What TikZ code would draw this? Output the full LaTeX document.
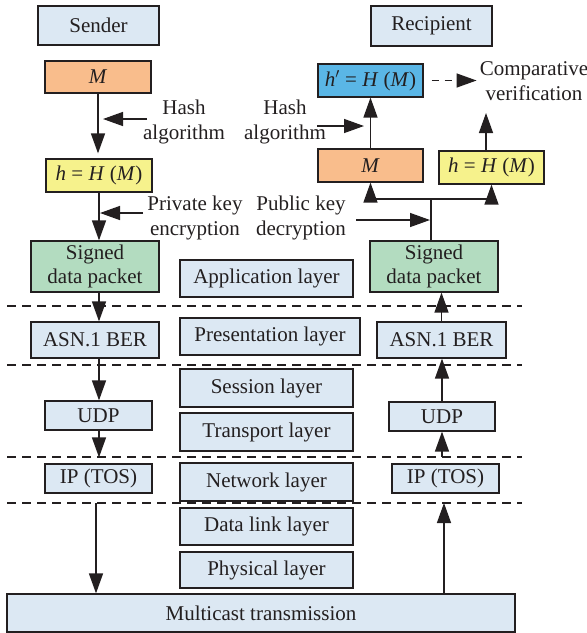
\documentclass[tikz,border=0pt]{standalone}
\usepackage{fontspec}
\setmainfont{Liberation Serif}
\usetikzlibrary{arrows.meta,calc}
\definecolor{boxblue}{HTML}{DCE8F3}
\definecolor{boxorange}{HTML}{F9BD8C}
\definecolor{boxyellow}{HTML}{F6F28C}
\definecolor{boxgreen}{HTML}{B3DCC0}
\definecolor{boxcyan}{HTML}{5AB6E6}
\definecolor{ink}{HTML}{231F20}
\tikzset{
  every node/.style={font=\fontsize{21}{25}\selectfont, text=ink},
  box/.style={draw=ink, line width=1.2pt, fill=boxblue, inner sep=0pt, align=center},
  lbl/.style={align=center, inner sep=0pt},
  arr/.style={draw=ink, line width=1.4pt, -{Triangle[length=20pt,width=14pt]}},
  conn/.style={draw=ink, line width=1.4pt},
  sep/.style={draw=ink, line width=1.1pt, dash pattern=on 9pt off 6pt},
}
\newcommand{\bx}[6]{%
  \node[box,#6, minimum width=#4pt, minimum height=#5pt] (#1) at (#2,#3)}
\begin{document}
\begin{tikzpicture}[x=1pt,y=-1pt]
\useasboundingbox (0,0) rectangle (587,633);

% layer separators
\foreach \yy in {306,365,457,503}{
  \draw[sep] (7,\yy) -- (522,\yy);
}
\coordinate (d3) at (7,457);
\coordinate (d4) at (7,503);

% sender column
\bx{sender}{98.5}{25.5}{121}{39}{} {Sender};
\bx{mL}{98}{77}{106}{32}{fill=boxorange} {\textit{M}};
\bx{hL}{99}{175.5}{106}{33}{fill=boxyellow} {\textit{h} = \textit{H} (\textit{M})};
\bx{sigL}{95}{266.5}{128}{51}{fill=boxgreen} {Signed\\[-1pt]data packet};
\bx{asnL}{95}{340}{128}{36}{} {ASN.1 BER};
\bx{udpL}{98.5}{415.5}{107}{29}{} {UDP};
\bx{ipL}{98.5}{478.5}{107}{29}{} {IP (TOS)};

% OSI reference stack
\bx{app}{266.5}{278.5}{173}{37}{} {Application layer};
\bx{pres}{270}{336.5}{180}{37}{} {Presentation layer};
\bx{sess}{266.5}{388}{173}{38}{} {Session layer};
\bx{trans}{266.5}{432}{173}{38}{} {Transport layer};
\bx{net}{266.5}{482}{173}{38}{} {Network layer};
\bx{dll}{266.5}{526.5}{173}{37}{} {Data link layer};
\bx{phy}{266.5}{570}{173}{36}{} {Physical layer};
\bx{mc}{261}{613}{508}{38}{} {Multicast transmission};

% recipient column
\bx{recip}{431.5}{26}{121}{40}{} {Recipient};
\bx{hp}{370.5}{80.5}{105}{33}{fill=boxcyan} {\textit{h}$'$ = \textit{H} (\textit{M})};
\bx{mR}{370.5}{165.5}{105}{33}{fill=boxorange} {\textit{M}};
\bx{hR}{491.5}{167.5}{105}{33}{fill=boxyellow} {\textit{h} = \textit{H} (\textit{M})};
\bx{sigR}{434}{266.5}{128}{51}{fill=boxgreen} {Signed\\[-1pt]data packet};
\bx{asnR}{441.5}{340}{129}{36}{} {ASN.1 BER};
\bx{udpR}{442}{416.5}{106}{29}{} {UDP};
\bx{ipR}{445.5}{478.5}{107}{29}{} {IP (TOS)};

% operation labels
\node[lbl] (hashL) at (184,122) {Hash\\algorithm};
\node[lbl] (privL) at (195,218) {Private key\\encryption};
\node[lbl] (hashR) at (285,122) {Hash\\algorithm};
\node[lbl] (pubR) at (301,218) {Public key\\decryption};
\node[lbl] (comp) at (534,81) {Comparative\\verification};

% sender flow
\draw[arr, shorten >=5pt] (mL.south) -- (mL.south |- hL.north);
\draw[arr] (hL.south) -- (hL.south |- sigL.north);
\draw[arr] (sigL.south -| hL.south) -- (asnL.north -| hL.south);
\draw[arr] (asnL.south -| hL.south) -- (udpL.north -| hL.south);
\draw[arr, shorten >=6pt] (udpL.south -| hL.south) -- (ipL.north -| hL.south);
\coordinate (downL) at (96,0);
\draw[arr] (d4 -| downL) -- (mc.north -| downL);

\coordinate (haL) at (147,119);
\coordinate (haLt) at (103,119);
\draw[arr] (haL) -- (haLt);
\coordinate (pkL) at (143,213);
\coordinate (pkLt) at (100,213);
\draw[arr] (pkL) -- (pkLt);

% recipient flow
\coordinate (split) at (431,199);
\draw[conn] (sigR.north -| split) -- (split);
\draw[conn] (split -| mR.south) -- (split -| hR.south);
\draw[arr] (split -| mR.south) -- (mR.south);
\draw[arr] (split -| hR.south) -- (hR.south);
\draw[arr] (mR.north) -- (hp.south);
\coordinate (cmpin) at (486,113);
\draw[arr] (hR.north -| cmpin) -- (cmpin);
\draw[arr, dash pattern=on 7pt off 6pt, shorten <=8pt, shorten >=3pt] (hp.east) -- (hp.east -| comp.west);

\coordinate (haR) at (317,126);
\coordinate (haRt) at (364,126);
\draw[arr] (haR) -- (haRt);
\coordinate (pkR) at (356,220);
\coordinate (pkRt) at (430,220);
\draw[arr] (pkR) -- (pkRt);

\draw[arr] (asnR.north) -- (asnR.north |- sigR.south);
\draw[arr] (udpR.north) -- (udpR.north |- asnR.south);
\draw[arr] (d3 -| udpR.south) -- (udpR.south);
\coordinate (upR) at (444,0);
\draw[arr] (mc.north -| upR) -- (d4 -| upR);
\end{tikzpicture}
\end{document}
